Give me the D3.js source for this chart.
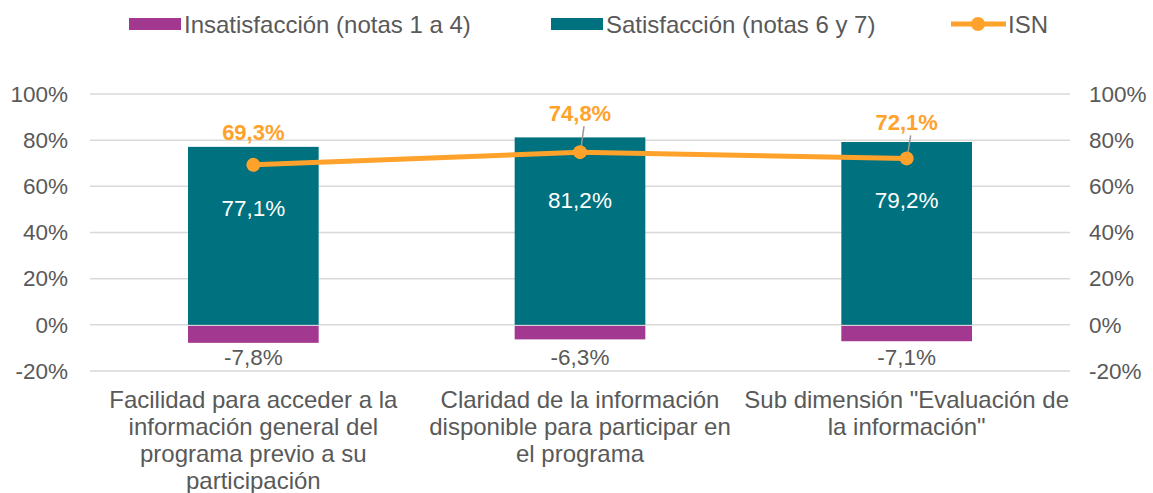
<!DOCTYPE html>
<html>
<head>
<meta charset="utf-8">
<script src="https://cdn.jsdelivr.net/npm/d3@7"></script>
<style>
  body { margin: 0; background: #fff; }
  svg text { font-family: "Liberation Sans", Arial, sans-serif; }
</style>
</head>
<body>
<svg id="chart" width="1153" height="493"></svg>
<script>
// data
var categories = [
  ["Facilidad para acceder a la", "información general del", "programa previo a su", "participación"],
  ["Claridad de la información", "disponible para participar en", "el programa"],
  ["Sub dimensión \"Evaluación de", "la información\""]
];
var satisfaccion = [77.1, 81.2, 79.2];
var insatisfaccion = [-7.8, -6.3, -7.1];
var isn = [69.3, 74.8, 72.1];
var ticks = [-20, 0, 20, 40, 60, 80, 100];

var purple = "#A2388F", teal = "#00717E", orange = "#FFA22B", grey = "#595959";

var svg = d3.select("#chart");
var plotLeft = 90, plotRight = 1070, plotTop = 94, plotBottom = 371;

var x = d3.scaleBand().domain(d3.range(categories.length)).range([plotLeft, plotRight]).paddingInner(0.6).paddingOuter(0.3);
var y = d3.scaleLinear().domain([-20, 100]).range([plotBottom, plotTop]);
var fmt = function(v){ return d3.format(".1f")(v).replace(".", ",").replace("\u2212", "-") + "%"; };

// grid
svg.append("g").selectAll("line").data(ticks).enter().append("line")
  .attr("x1", plotLeft).attr("x2", plotRight)
  .attr("y1", d => y(d)).attr("y2", d => y(d))
  .attr("stroke", "#D9D9D9").attr("stroke-width", 1.5);

// axes labels left + right
var yl = d3.axisLeft(y).tickValues(ticks).tickFormat(d => d + "%").tickSize(0).tickPadding(0);
var gl = svg.append("g").attr("transform", "translate(68,0)").call(yl);
var yr = d3.axisRight(y).tickValues(ticks).tickFormat(d => d + "%").tickSize(0).tickPadding(0);
var gr = svg.append("g").attr("transform", "translate(1089,0)").call(yr);
[gl, gr].forEach(function(g){
  g.select(".domain").remove();
  g.selectAll("text").attr("fill", grey).style("font-size", "22.5px").attr("font-family", null);
});

// bars
svg.append("g").selectAll("rect").data(satisfaccion).enter().append("rect")
  .attr("x", (d, i) => x(i)).attr("width", x.bandwidth())
  .attr("y", d => y(d)).attr("height", d => y(0) - y(d))
  .attr("fill", teal);
svg.append("g").selectAll("rect").data(insatisfaccion).enter().append("rect")
  .attr("x", (d, i) => x(i)).attr("width", x.bandwidth())
  .attr("y", y(0) + 1).attr("height", d => y(d) - y(0) - 1)
  .attr("fill", purple);

var cx = i => x(i) + x.bandwidth() / 2;

// bar labels
var satOff = [69, 71, 66];
svg.append("g").selectAll("text").data(satisfaccion).enter().append("text")
  .attr("x", (d, i) => cx(i)).attr("y", (d, i) => y(d) + satOff[i])
  .attr("text-anchor", "middle").attr("fill", "#fff").style("font-size", "22.5px")
  .text(fmt);
svg.append("g").selectAll("text").data(insatisfaccion).enter().append("text")
  .attr("x", (d, i) => cx(i)).attr("y", 365)
  .attr("text-anchor", "middle").attr("fill", grey).style("font-size", "22.5px")
  .text(fmt);

// ISN line
var line = d3.line().x((d, i) => cx(i)).y(d => y(d));
svg.append("path").datum(isn).attr("d", line)
  .attr("fill", "none").attr("stroke", orange).attr("stroke-width", 5);

// leader lines for 2nd/3rd labels
var labelOff = [33, 39, 36];
svg.append("g").selectAll("line").data(isn.slice(1)).enter().append("line")
  .attr("x1", (d, i) => cx(i + 1) + 1).attr("y1", d => y(d) - 4)
  .attr("x2", (d, i) => cx(i + 1) + 4).attr("y2", (d, i) => y(d) - labelOff[i + 1] + 13)
  .attr("stroke", "#999").attr("stroke-width", 1.5);

svg.append("g").selectAll("circle").data(isn).enter().append("circle")
  .attr("cx", (d, i) => cx(i)).attr("cy", d => y(d)).attr("r", 7)
  .attr("fill", orange);

svg.append("g").selectAll("text").data(isn).enter().append("text")
  .attr("x", (d, i) => cx(i)).attr("y", (d, i) => y(d) - labelOff[i] + 8)
  .attr("text-anchor", "middle").attr("fill", orange)
  .style("font-size", "22px").style("font-weight", "bold")
  .text(fmt);

// category labels
var cat = svg.append("g").selectAll("text").data(categories).enter().append("text")
  .attr("text-anchor", "middle").attr("fill", grey).style("font-size", "24px");
cat.each(function(lines, i){
  d3.select(this).selectAll("tspan").data(lines).enter().append("tspan")
    .attr("x", cx(i)).attr("y", (d, j) => 407.5 + j * 27.3).text(d => d);
});

// legend
var lg = svg.append("g");
lg.append("rect").attr("x", 129).attr("y", 18).attr("width", 52).attr("height", 12).attr("fill", purple);
lg.append("text").attr("x", 184).attr("y", 33).attr("fill", grey).style("font-size", "24px").text("Insatisfacción (notas 1 a 4)");
lg.append("rect").attr("x", 551).attr("y", 18).attr("width", 52).attr("height", 12).attr("fill", teal);
lg.append("text").attr("x", 606).attr("y", 33).attr("fill", grey).style("font-size", "24px").text("Satisfacción (notas 6 y 7)");
lg.append("line").attr("x1", 951).attr("x2", 1006).attr("y1", 24).attr("y2", 24).attr("stroke", orange).attr("stroke-width", 5);
lg.append("circle").attr("cx", 978).attr("cy", 24).attr("r", 7).attr("fill", orange);
lg.append("text").attr("x", 1008).attr("y", 33).attr("fill", grey).style("font-size", "24px").text("ISN");
</script>
</body>
</html>
